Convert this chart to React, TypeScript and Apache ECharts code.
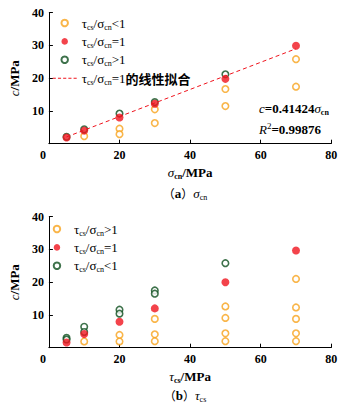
import React, { useEffect, useRef } from "react";
import * as echarts from "echarts";

// axis ticks
const xMin = 0, xMax = 80, xStep = 20;
const yMin = 0, yMax = 40, yStep = 10;

// (a) x = σcn
const aLtX = [10, 20, 20, 30, 30, 50, 50, 70, 70];
const aLtY = [2.3, 4.6, 2.9, 10.5, 6.3, 16.7, 11.5, 25.8, 17.4];
const aGtX = [5, 10, 20, 30, 50];
const aGtY = [2.1, 4.4, 9.2, 12.7, 21.2];
const aEqX = [5, 10, 20, 30, 50, 70];
const aEqY = [1.9, 4.0, 8.0, 12.2, 19.8, 29.9];
const fitSlope = 0.41424;
const fitX = [5, 70];
const fitR2 = "0.99876";

// (b) x = τcs
const bGtX = [10, 20, 20, 30, 30, 30, 50, 50, 50, 50, 70, 70, 70, 70, 70];
const bGtY = [1.9, 3.9, 1.9, 8.8, 4.1, 2.0, 12.6, 9.1, 4.4, 2.0, 21.0, 12.3, 8.8, 4.4, 2.0];
const bLtX = [5, 5, 10, 10, 20, 20, 30, 30, 50];
const bLtY = [3.0, 2.5, 6.4, 4.8, 11.6, 10.4, 17.5, 16.5, 25.8];
const bEqX = [5, 10, 20, 30, 50, 70];
const bEqY = [1.6, 4.2, 7.9, 12.0, 20.0, 29.7];

const ORANGE = "#F7A21B";
const RED = "#F0141E";
const GREEN = "#0E4F1E";
const SERIF = "Liberation Serif";
const CJK = "Noto Sans CJK SC";
const DASH_ICON = "path://M0 0h3v1h-3z M5 0h3v1h-3z M10 0h3v1h-3z M15 0h3v1h-3z M20 0h3v1h-3z";

const zip = (xs: number[], ys: number[]) => xs.map((x, i) => [x, ys[i]]);

const richBase: any = {
  t: { fontFamily: SERIF, fontSize: 13, lineHeight: 16, color: "#000" },
  i: { fontFamily: SERIF, fontSize: 13, lineHeight: 16, color: "#000", fontStyle: "italic" },
  b: { fontFamily: SERIF, fontSize: 13, lineHeight: 16, color: "#000", fontWeight: "bold" },
  g: { fontFamily: SERIF, fontSize: 13, lineHeight: 16, color: "#000", fontStyle: "italic" },
  s: { fontFamily: SERIF, fontSize: 8, lineHeight: 8, padding: [8, 0, 0, 0], color: "#000" },
  sb: { fontFamily: SERIF, fontSize: 8, lineHeight: 8, padding: [8, 0, 0, 0], color: "#000", fontWeight: "bold" },
  sup: { fontFamily: SERIF, fontSize: 9, lineHeight: 9, padding: [0, 0, 7, 0], color: "#000" },
  c: { fontFamily: CJK, fontSize: 13, lineHeight: 16, color: "#000", fontWeight: "bold" },
};

const ratio = (op: string) => `{t|τ}{s|cs}{t|/σ}{s|cn}{t|${op}}`;

const legendText: Record<string, string> = {
  aLt: ratio("<1"),
  aEq: ratio("=1"),
  aGt: ratio(">1"),
  aFit: `{t|τ}{s|cs}{t|/σ}{s|cn}{t|=1}{c|的线性拟合}`,
  bGt: ratio(">1"),
  bEq: ratio("=1"),
  bLt: ratio("<1"),
};

const hollow = (name: string, color: string, x: number[], y: number[], xi: number) => ({
  type: "scatter",
  name,
  xAxisIndex: xi,
  yAxisIndex: xi,
  data: zip(x, y),
  symbol: "circle",
  symbolSize: 6.5,
  itemStyle: { color: "#fff", borderColor: color, borderWidth: 1.6 },
  z: 2,
});
const filled = (name: string, color: string, x: number[], y: number[], xi: number) => ({
  type: "scatter",
  name,
  xAxisIndex: xi,
  yAxisIndex: xi,
  data: zip(x, y),
  symbol: "circle",
  symbolSize: 8,
  itemStyle: { color },
  z: 4,
});

const labelStyle = {
  margin: 5,
  fontFamily: SERIF,
  fontSize: 12,
  fontWeight: "bold",
  color: "#000",
};

const xAxisCfg = (gi: number, nameRich: string) => ({
  type: "value",
  gridIndex: gi,
  min: xMin,
  max: xMax,
  interval: xStep,
  name: nameRich,
  nameLocation: "middle",
  nameGap: 21,
  nameTextStyle: { rich: richBase },
  axisLine: { show: true, lineStyle: { color: "#000", width: 1 } },
  axisTick: { show: true, inside: true, length: 4, lineStyle: { color: "#000" } },
  splitLine: { show: false },
  axisLabel: {
    ...labelStyle,
    formatter: (v: number) => (v === 0 ? "0\u2003" : String(v)),
  },
});

const yAxisCfg = (gi: number) => ({
  type: "value",
  gridIndex: gi,
  min: yMin,
  max: yMax,
  interval: yStep,
  name: "{i|c}{b|/MPa}",
  nameLocation: "middle",
  nameRotate: 90,
  nameGap: 18,
  nameTextStyle: { rich: richBase },
  axisLine: { show: true, lineStyle: { color: "#000", width: 1 } },
  axisTick: { show: true, inside: true, length: 4, lineStyle: { color: "#000" } },
  splitLine: { show: false },
  axisLabel: {
    ...labelStyle,
    formatter: (v: number) => (v === 0 ? "" : String(v)),
  },
});

const legendCfg = (data: any[], top: number) => ({
  orient: "vertical",
  left: 47.7,
  top,
  itemWidth: 24,
  itemHeight: 6.5,
  itemGap: 2.4,
  data,
  formatter: (n: string) => legendText[n],
  textStyle: { fontFamily: SERIF, rich: richBase },
});

export default function App() {
  const ref = useRef<HTMLDivElement>(null);
  useEffect(() => {
    if (!ref.current) return;
    const chart = echarts.init(ref.current, undefined, { renderer: "svg" });
    const titleRich = { ...richBase, c: { fontFamily: CJK, fontSize: 12, lineHeight: 16, color: "#000" } };
    chart.setOption({
      animation: false,
      backgroundColor: "#fff",
      textStyle: { fontFamily: SERIF },
      grid: [
        { left: 39.3, top: 12.7, width: 292, height: 131 },
        { left: 39.3, top: 216.7, width: 292, height: 131 },
      ],
      xAxis: [xAxisCfg(0, "{g|σ}{sb|cn}{b|/MPa}"), xAxisCfg(1, "{g|τ}{sb|cs}{b|/MPa}")],
      yAxis: [yAxisCfg(0), yAxisCfg(1)],
      legend: [
        legendCfg(
          ["aLt", "aEq", "aGt", { name: "aFit", icon: DASH_ICON, itemStyle: { color: RED } }],
          10
        ),
        legendCfg(["bGt", "bEq", "bLt"], 216),
      ],
      series: [
        hollow("aLt", ORANGE, aLtX, aLtY, 0),
        hollow("aGt", GREEN, aGtX, aGtY, 0),
        filled("aEq", RED, aEqX, aEqY, 0),
        {
          type: "line",
          name: "aFit",
          xAxisIndex: 0,
          yAxisIndex: 0,
          data: fitX.map((x) => [x, fitSlope * x]),
          symbol: "none",
          showSymbol: false,
          lineStyle: { color: RED, width: 1, type: [4, 3] },
          itemStyle: { color: RED },
          z: 3,
        },
        hollow("bGt", ORANGE, bGtX, bGtY, 1),
        hollow("bLt", GREEN, bLtX, bLtY, 1),
        filled("bEq", RED, bEqX, bEqY, 1),
      ],
      graphic: [
        {
          type: "text",
          x: 259,
          y: 108,
          style: {
            text: `{i|c}{b|=${fitSlope}}{g|σ}{sb|cn}`,
            rich: richBase,
            verticalAlign: "middle",
          },
        },
        {
          type: "text",
          x: 259,
          y: 129,
          style: {
            text: `{i|R}{sup|2}{b|=${fitR2}}`,
            rich: richBase,
            verticalAlign: "middle",
          },
        },
        {
          type: "text",
          x: 185,
          y: 193.3,
          style: {
            text: "{c|（}{b|a}{c|）}{g|σ}{s|cn}",
            rich: titleRich,
            align: "center",
            verticalAlign: "middle",
          },
        },
        {
          type: "text",
          x: 185,
          y: 395,
          style: {
            text: "{c|（}{b|b}{c|）}{g|τ}{s|cs}",
            rich: titleRich,
            align: "center",
            verticalAlign: "middle",
          },
        },
      ],
    });
    return () => chart.dispose();
  }, []);
  return (
    <div
      ref={ref}
      style={{ position: "absolute", left: 0, top: 0, width: 352, height: 411, background: "#fff" }}
    />
  );
}
